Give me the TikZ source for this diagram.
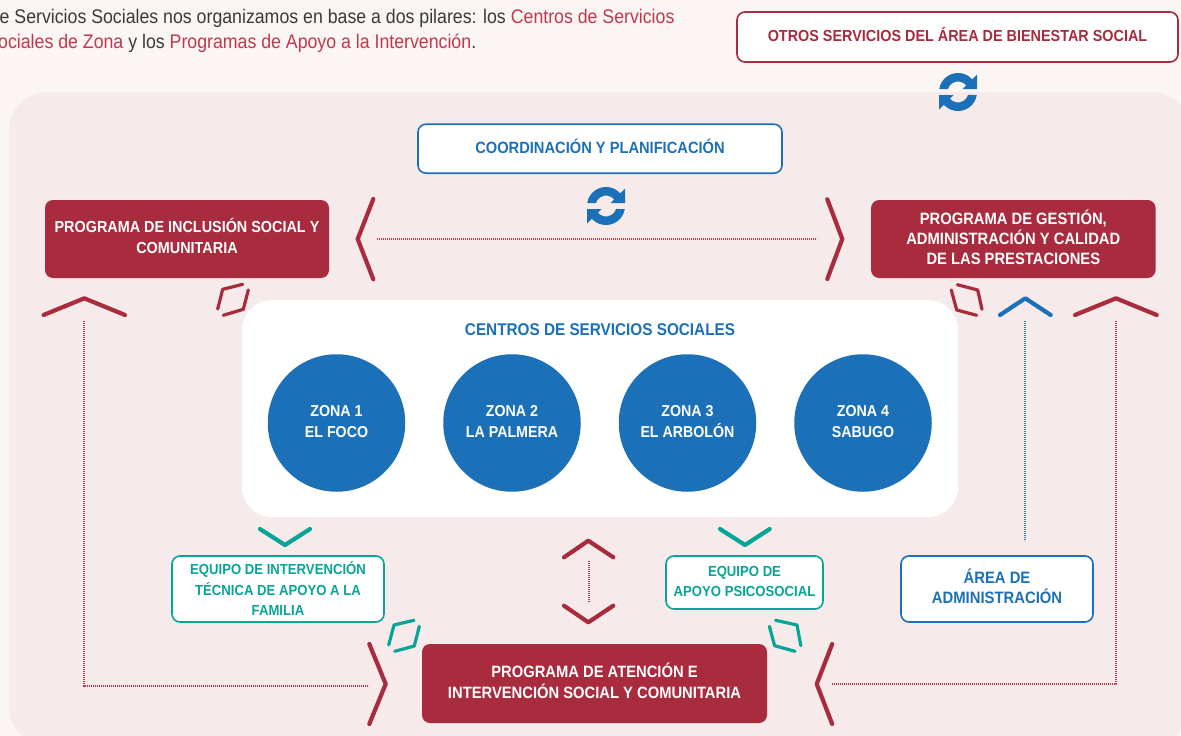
\documentclass[tikz,border=0pt]{standalone}
\usepackage{fontspec}
\setmainfont{Liberation Sans}[FakeStretch=0.9]
\newfontfamily\introfont{Liberation Sans}[FakeStretch=0.9]
\definecolor{pagebg}{HTML}{FBF6F4}
\definecolor{panelbg}{HTML}{F6EAEA}
\definecolor{wine}{HTML}{A92B3E}
\definecolor{dotwine}{HTML}{B5324A}
\definecolor{dotazul}{HTML}{2F80C6}
\definecolor{rosetext}{HTML}{C1374F}
\definecolor{azul}{HTML}{1C70B8}
\definecolor{teal2}{HTML}{07A597}
\definecolor{introtext}{HTML}{3A3A3A}
\newcommand{\refreshicon}[2]{%
  \begin{scope}[shift={(#1,#2)},x=1pt,y=1pt]
    \foreach \r in {0,180}{
      \fill[azul,rotate=\r] (-18.76,3) arc[start angle=171,end angle=35,radius=19]
        -- (8.6,6.02) arc[start angle=35,end angle=163.4,radius=10.5] -- cycle;
      \fill[azul,rotate=\r] (19,17.5) -- (19,3) -- (4.5,3) -- cycle;
    }
  \end{scope}}
\begin{document}
\begin{tikzpicture}[x=1pt,y=-1pt,
  every node/.style={font=\bfseries\fontsize{16}{20.5}\selectfont,align=center,inner sep=0pt},
  tealfont/.style={font=\bfseries\fontsize{14.6}{20.5}\selectfont},
  solidbox/.style={fill=wine,text=white,rounded corners=8pt,draw=none},
  linebox/.style={fill=white,rounded corners=8pt,line width=1.6pt},
  zone/.style={circle,fill=azul,text=white,minimum size=137.5pt,font=\bfseries\fontsize{15.8}{21}\selectfont,text depth=4pt},
  chev/.style={line width=4.2pt,line cap=round,line join=round,wine},
  smallmark/.style={line width=3.2pt,line cap=round,line join=round},
  dots/.style={line width=2.2pt,dash pattern=on 1.2pt off 0.8pt}]
\useasboundingbox (0,0) rectangle (1181,736);
\fill[pagebg] (0,0) rectangle (1181,736);
\fill[panelbg,rounded corners=38pt] (9,92) rectangle (1190,745);
% intro
\node[anchor=base west,font=\introfont\fontsize{19.7}{25}\selectfont,text=introtext] (intro1) at (-0.5,23.5)
  {e Servicios Sociales nos organizamos en base a dos pilares: los \textcolor{rosetext}{Centros de Servicios}};
\node[anchor=base west,font=\introfont\fontsize{19.7}{25}\selectfont,text=introtext] (intro2) at (-2,48.5)
  {\textcolor{rosetext}{ociales de Zona} y los \textcolor{rosetext}{Programas de Apoyo a la Intervención}.};
% boxes
\node[linebox,draw=wine,text=wine,minimum width=441pt,minimum height=50pt,text depth=5pt] (otros) at (957.5,37) {OTROS SERVICIOS DEL ÁREA DE BIENESTAR SOCIAL};
\node[linebox,draw=azul,text=azul,font=\bfseries\fontsize{16.3}{20.5}\selectfont,minimum width=364pt,minimum height=49pt,text depth=5pt] (coord) at (600,148.7) {COORDINACIÓN Y PLANIFICACIÓN};
\node[solidbox,minimum width=284pt,minimum height=78pt,text depth=6pt] (incl) at (187,239) {PROGRAMA DE INCLUSIÓN SOCIAL Y\\COMUNITARIA};
\node[solidbox,minimum width=284.5pt,minimum height=78pt,text depth=3pt,font=\bfseries\fontsize{16.4}{20}\selectfont] (gest) at (1013.3,239) {PROGRAMA DE GESTIÓN,\\ADMINISTRACIÓN Y CALIDAD\\DE LAS PRESTACIONES};
\node[fill=white,rounded corners=30pt,minimum width=716pt,minimum height=217pt] (centros) at (600,408.5) {};
\node[text=azul,font=\bfseries\fontsize{17}{21}\selectfont] (centrostit) at (600,330) {CENTROS DE SERVICIOS SOCIALES};
\node[zone] (z1) at (336.5,423) {ZONA 1\\EL FOCO};
\node[zone] (z2) at (512,423) {ZONA 2\\LA PALMERA};
\node[zone] (z3) at (687.5,423) {ZONA 3\\EL ARBOLÓN};
\node[zone] (z4) at (863,423) {ZONA 4\\SABUGO};
\node[linebox,draw=teal2,text=teal2,tealfont,minimum width=212pt,minimum height=66pt] (eq1) at (278,589) {EQUIPO DE INTERVENCIÓN\\TÉCNICA DE APOYO A LA\\FAMILIA};
\node[linebox,draw=teal2,text=teal2,tealfont,minimum width=157pt,minimum height=53pt,text depth=2pt] (eq2) at (744.5,582.5) {EQUIPO DE\\APOYO PSICOSOCIAL};
\node[linebox,draw=azul,text=azul,font=\bfseries\fontsize{16.5}{20.5}\selectfont,minimum width=192pt,minimum height=66pt,text depth=6pt] (area) at (997,589) {ÁREA DE\\ADMINISTRACIÓN};
\node[solidbox,font=\bfseries\fontsize{16.4}{20.5}\selectfont,minimum width=345pt,minimum height=79pt,text depth=6pt] (aten) at (594.5,683.5) {PROGRAMA DE ATENCIÓN E\\INTERVENCIÓN SOCIAL Y COMUNITARIA};
% refresh icons
\refreshicon{958}{92}
\refreshicon{606}{206}
% chevrons
\draw[chev] (373.3,199) -- (357.7,239) -- (373.3,279.3);
\draw[chev] (827.3,199.3) -- (842.3,239) -- (827.3,279);
\draw[chev] (43.5,315) -- (84.3,298.3) -- (125,315);
\draw[chev] (1075,315) -- (1116,298.3) -- (1156.7,315);
\draw[chev,azul] (1000,315) -- (1025.3,298.3) -- (1050.7,315);
\draw[chev] (369.3,644) -- (385.7,684) -- (369.3,724);
\draw[chev] (832.2,644) -- (816.7,684) -- (832.2,724);
\draw[chev,teal2] (260,529) -- (285,545) -- (310,529);
\draw[chev,teal2] (720,529) -- (745,545) -- (769.7,529);
\draw[chev] (564,557.3) -- (588.3,540.7) -- (613.3,557.3);
\draw[chev] (564,605.7) -- (588.3,622.3) -- (613.3,605.7);
% small marks
\draw[smallmark,wine] (217.7,309) -- (222.7,289.3) -- (242.7,284.3);
\draw[smallmark,wine] (248.3,290) -- (243.3,309.3) -- (223.3,315.3);
\draw[smallmark,wine] (957.3,284.7) -- (977.7,290) -- (982,309.3);
\draw[smallmark,wine] (951.3,290) -- (956.7,310) -- (976.7,315.3);
\draw[smallmark,teal2] (388.7,645) -- (394,625) -- (414,620.3);
\draw[smallmark,teal2] (419.3,626.3) -- (414.3,646) -- (394.7,651.3);
\draw[smallmark,teal2] (775.6,620.3) -- (797,625) -- (800.8,645.7);
\draw[smallmark,teal2] (769.4,626.3) -- (774.6,645.7) -- (795,651.3);
% dotted connectors
\coordinate (ha) at (377,239);
\coordinate (hb) at (817,239);
\coordinate (la) at (84,321);
\coordinate (lb) at (84,686);
\coordinate (lc) at (369,686);
\coordinate (ra) at (1116,321);
\coordinate (rb) at (1116,684);
\coordinate (rc) at (832,684);
\coordinate (ba) at (1025,321);
\coordinate (bb) at (1025,541);
\coordinate (ma) at (589,561);
\coordinate (mb) at (589,603);
\draw[dots,dotwine] (ha) -- (hb);
\draw[dots,dotwine] (la) -- (lb) -- (lc);
\draw[dots,dotwine] (ra) -- (rb) -- (rc);
\draw[dots,dotazul] (ba) -- (bb);
\draw[dots,dotwine] (ma) -- (mb);
\end{tikzpicture}
\end{document}
